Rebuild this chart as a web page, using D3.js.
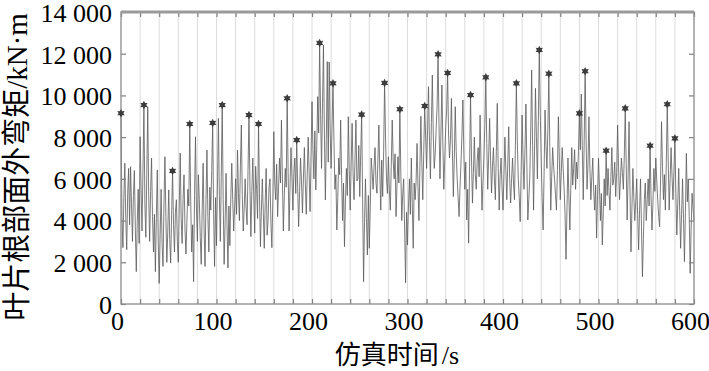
<!DOCTYPE html>
<html>
<head>
<meta charset="utf-8">
<script src="https://cdn.jsdelivr.net/npm/d3@7"></script>
<style>
body { margin: 0; background: #fff; }
svg { display: block; }
</style>
</head>
<body>
<script>
// blade root out-of-plane moment, one reading per second
const sampleStep = 1;
const moment = [
	9150, 4200, 2700, 5100, 6750, 4100, 2600, 5300, 6500, 3800,
	6580, 4800, 3000, 5200, 6400, 3700, 1550, 3900, 5500, 2900,
	8020, 5600, 3500, 6400, 9540, 4800, 3200, 6200, 9460, 5200,
	3000, 5400, 7000, 4200, 2500, 4300, 1550, 4100, 6430, 3000,
	990, 3300, 5500, 2900, 1800, 4800, 7060, 4200, 2000, 3500,
	5470, 3100, 1960, 4300, 6380, 3800, 2500, 4400, 5000, 3000,
	2000, 4600, 7240, 4100, 2900, 5000, 6190, 3600, 2400, 3900,
	5500, 4700, 8630, 4900, 2500, 3800, 1070, 5200, 8020, 4600,
	3000, 6200, 5000, 3200, 1900, 4500, 6750, 3600, 1800, 5000,
	7380, 4200, 2500, 5600, 4500, 6400, 8680, 4300, 1800, 5100,
	2800, 5700, 8900, 5200, 3000, 6100, 9540, 5000, 1900, 3900,
	6270, 3800, 1730, 4700, 2800, 5100, 6750, 5000, 3500, 4700,
	6000, 4300, 7380, 5300, 4000, 6600, 8580, 5200, 3500, 4600,
	6000, 4600, 3800, 6400, 9060, 5700, 3230, 5400, 7000, 5200,
	3400, 6600, 5500, 4100, 8630, 5300, 2750, 4500, 6000, 4400,
	2670, 4900, 6500, 3300, 4000, 5600, 6000, 3900, 2700, 5100,
	8260, 5800, 5000, 6700, 4190, 5600, 7000, 5800, 8820, 6000,
	3500, 5200, 6500, 5600, 9860, 6300, 3500, 5700, 7500, 6100,
	4500, 6300, 7000, 5300, 7860, 5600, 3710, 5400, 7000, 5900,
	4360, 6000, 7500, 5800, 4300, 6200, 8000, 6300, 4430, 7100,
	9700, 7400, 6000, 8300, 5470, 7600, 9940, 8200, 12515, 9100,
	6500, 9600, 12420, 8100, 4990, 7900, 11620, 6800, 11600, 8300,
	6500, 8500, 10580, 7800, 5500, 6200, 3550, 5100, 7000, 6200,
	8820, 6100, 4000, 5800, 2750, 4900, 6500, 5200, 8980, 6400,
	4500, 6700, 8660, 6300, 5000, 6900, 8820, 5900, 6000, 7600,
	5150, 7200, 9080, 5000, 1070, 3900, 6000, 4100, 2350, 5200,
	2670, 4600, 7000, 6300, 5500, 6600, 7500, 5800, 5310, 6900,
	8580, 6300, 4500, 6900, 5150, 7300, 10600, 8000, 6000, 5300,
	7060, 5500, 4500, 6600, 8820, 6900, 6000, 7200, 4190, 5700,
	7060, 5800, 9340, 6300, 4000, 5300, 6000, 3600, 1020, 4400,
	2830, 4700, 6000, 4300, 7000, 4800, 2670, 5800, 5000, 5900,
	7700, 5600, 4000, 6600, 9000, 6800, 5000, 7300, 9490, 8000,
	6500, 8300, 10420, 7800, 6000, 8700, 10980, 8100, 6500, 7200,
	8400, 9500, 11970, 8600, 6000, 8200, 10500, 7800, 5500, 6900,
	8500, 9300, 11080, 8100, 7000, 7900, 9860, 7400, 5150, 7000,
	9460, 7300, 6000, 5100, 4190, 5600, 6750, 8100, 9780, 7200,
	5500, 6800, 4030, 5500, 2920, 6600, 10020, 7000, 4840, 6300,
	8000, 6200, 5500, 6900, 7500, 6100, 9060, 6700, 4500, 5800,
	7000, 8600, 10870, 7700, 5500, 7100, 8900, 6900, 5320, 6600,
	7500, 6000, 5000, 7300, 9620, 6500, 4500, 6200, 7000, 5600,
	4500, 6200, 8000, 6400, 5000, 6700, 8500, 6000, 4840, 6000,
	7000, 5800, 5000, 7600, 10580, 7800, 6000, 5100, 3950, 6400,
	9060, 7000, 5500, 7400, 9590, 6600, 4030, 5000, 6000, 8200,
	11220, 7600, 4500, 7300, 10340, 8000, 6000, 8800, 12180, 9200,
	7000, 5100, 3550, 6200, 9300, 7600, 6500, 8400, 11040, 7500,
	4500, 6100, 7500, 6600, 6000, 5200, 4500, 6400, 8980, 6900,
	5000, 6300, 7500, 6500, 5500, 4300, 2140, 4600, 7000, 5100,
	3550, 5600, 7500, 5700, 6500, 7400, 5500, 6800, 6000, 7300,
	9140, 7400, 10070, 7600, 5000, 7800, 11160, 7900, 5500, 6700,
	8980, 6500, 5000, 6100, 7000, 5400, 4500, 5700, 3160, 5200,
	7000, 5600, 4000, 5300, 2830, 4400, 6000, 4700, 7350, 5200,
	6500, 5400, 4500, 6100, 7500, 5700, 6000, 6800, 5150, 6300,
	8580, 6600, 5000, 6000, 7000, 6300, 5500, 7100, 9380, 6700,
	4030, 6200, 8740, 5400, 2500, 4600, 6500, 5100, 4000, 4900,
	6000, 4300, 2590, 4500, 6000, 3700, 1310, 3100, 5000, 5800,
	4000, 5000, 6000, 4700, 7590, 5200, 3550, 4800, 6500, 5400,
	7000, 5900, 5000, 4200, 3700, 6000, 8740, 6600, 5000, 6200,
	4500, 6800, 9580, 6900, 4500, 6000, 7500, 6100, 5000, 6400,
	7940, 5300, 3310, 4800, 6500, 4500, 2670, 4300, 6000, 4100,
	2030, 4400, 7220, 4900, 6000, 4200, 1470, 3600, 5310, 4600,
	4000
];

// marked peaks
const peakTime = [0, 24, 54, 72, 96, 106, 134, 144, 174, 184, 208, 222, 252, 276, 292,
	318, 332, 342, 366, 382, 414, 438, 448, 480, 486, 508, 528, 554, 572, 580];
const peakMoment = [9150, 9540, 6380, 8630, 8680, 9540, 9060, 8630, 9860, 7860, 12515, 10580, 9080, 10600, 9340,
	9490, 11970, 11080, 10020, 10870, 10580, 12180, 11040, 9140, 11160, 7350, 9380, 7590, 9580, 7940];

const xLabels = [0, 100, 200, 300, 400, 500, 600];
const yLabels = [0, 2000, 4000, 6000, 8000, 10000, 12000, 14000];

const w = 709;
const h = 371;
const pLeft = 121, pRight = 694, pTop = 12, pBottom = 304;

const svg = d3.select("body")
	.append("svg")
	.attr("width", w)
	.attr("height", h);

const xScale = d3.scaleLinear().domain([0, 600]).range([pLeft, pRight]);
const yScale = d3.scaleLinear().domain([0, 14000]).range([pBottom, pTop]);

const fmt = d3.formatLocale({ decimal: ".", thousands: " ", grouping: [3], currency: ["", ""] }).format(",d");
const minorX = d3.range(0, 601, 20);

// light vertical grid
svg.append("g")
	.selectAll("line")
	.data(minorX.slice(1, -1))
	.enter()
	.append("line")
	.attr("x1", d => xScale(d)).attr("x2", d => xScale(d))
	.attr("y1", pTop).attr("y2", pBottom)
	.attr("stroke", "#dcdcdc")
	.attr("stroke-width", 1);

// the signal
const line = d3.line()
	.x((d, i) => xScale(i * sampleStep))
	.y(d => yScale(d));

svg.append("path")
	.datum(moment)
	.attr("d", line)
	.attr("fill", "none")
	.attr("stroke", "#5a5a5a")
	.attr("stroke-width", 0.8);

// axes, ticks pointing inward
const serif = "Liberation Serif, Times New Roman, serif";

const xAxis = d3.axisBottom(xScale).tickValues(minorX).tickSize(-5).tickPadding(12)
	.tickFormat(d => xLabels.includes(d) ? d : "");
const gx = svg.append("g").attr("transform", "translate(0," + pBottom + ")").call(xAxis);

const xTop = d3.axisTop(xScale).tickValues(minorX).tickSize(-5).tickFormat("");
const gxt = svg.append("g").attr("transform", "translate(0," + pTop + ")").call(xTop);

const yAxis = d3.axisLeft(yScale).tickValues(yLabels).tickSize(-5).tickPadding(9).tickFormat(fmt);
const gy = svg.append("g").attr("transform", "translate(" + pLeft + ",0)").call(yAxis);

const yRight = d3.axisRight(yScale).tickValues(yLabels).tickSize(-5).tickFormat("");
const gyr = svg.append("g").attr("transform", "translate(" + pRight + ",0)").call(yRight);

[gx, gxt, gy, gyr].forEach(g => {
	g.attr("font-family", serif).attr("font-size", 26);
	g.select(".domain").remove();
	g.selectAll(".tick line").attr("stroke", "#808080").attr("stroke-width", 1.2);
	g.selectAll(".tick text").attr("fill", "#000");
});
gx.selectAll(".tick text").attr("dx", "-4px").attr("dy", "0.55em");
gy.selectAll(".tick text").attr("dy", "0.36em");

// frame
svg.append("rect")
	.attr("x", pLeft).attr("y", pTop)
	.attr("width", pRight - pLeft).attr("height", pBottom - pTop)
	.attr("fill", "none")
	.attr("stroke", "#8a8a8a")
	.attr("stroke-width", 1.3);
svg.append("line")
	.attr("x1", pLeft).attr("x2", pRight)
	.attr("y1", pTop).attr("y2", pTop)
	.attr("stroke", "#9a9a9a")
	.attr("stroke-width", 3);

// six-point star markers
const hexagram = {
	draw(ctx, size) {
		const r = Math.sqrt(size);
		const ri = r * 0.55;
		for (let k = 0; k < 12; k++) {
			const a = -Math.PI / 2 + k * Math.PI / 6;
			const rr = k % 2 === 0 ? r : ri;
			if (k === 0) ctx.moveTo(rr * Math.cos(a), rr * Math.sin(a));
			else ctx.lineTo(rr * Math.cos(a), rr * Math.sin(a));
		}
		ctx.closePath();
	}
};

svg.append("g")
	.selectAll("path")
	.data(peakTime)
	.enter()
	.append("path")
	.attr("transform", (d, i) => "translate(" + xScale(d) + "," + yScale(peakMoment[i]) + ")")
	.attr("d", d3.symbol().type(hexagram).size(18))
	.attr("fill", "#3c3c3c");

// axis titles
const cjk = "Noto Sans CJK SC, sans-serif";

const xt = svg.append("text")
	.attr("x", 397).attr("y", 364)
	.attr("text-anchor", "middle")
	.attr("font-size", 26)
	.attr("font-family", cjk);
xt.append("tspan").text("仿真时间");
xt.append("tspan").attr("font-family", serif).attr("dx", 3).text("/s");

const yt = svg.append("text")
	.attr("transform", "translate(27,167) rotate(-90)")
	.attr("text-anchor", "middle")
	.attr("font-size", 29)
	.attr("font-family", cjk);
yt.append("tspan").text("叶片根部面外弯矩");
yt.append("tspan").attr("font-family", serif).text("/kN·m");
</script>
</body>
</html>
